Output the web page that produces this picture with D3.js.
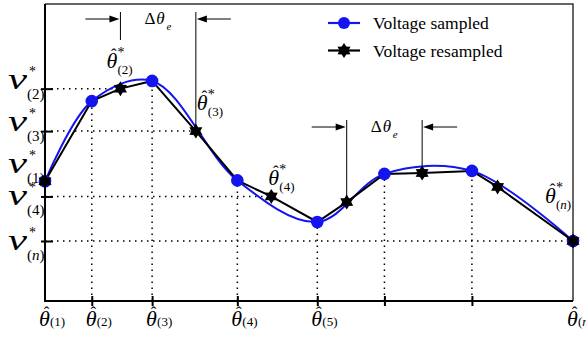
<!DOCTYPE html>
<html>
<head>
<meta charset="utf-8">
<script src="https://cdn.jsdelivr.net/npm/d3@7"></script>
<style>
  html, body { margin: 0; padding: 0; background: #fff; }
  svg { display: block; }
</style>
</head>
<body>
<svg id="chart" width="586" height="343"></svg>
<script>
// ---------------- data ----------------
const sampledTheta   = [0, 0.62, 1.42, 2.55, 3.61, 4.50, 5.66, 7];
const sampledV       = [4.03, 6.73, 7.41, 4.06, 2.66, 4.28, 4.38, 2.02];
const resampledTheta = [0, 1, 2, 3, 4, 5, 6, 7];
const resampledV     = [4.03, 7.15, 5.72, 3.52, 3.33, 4.31, 3.84, 2.02];
const xTickSubs      = ["(1)", "(2)", "(3)", "(4)", "(5)", "", "", "(n)"];
const yTickIndex     = [0, 1, 2, 3, 7];
const yTickSubs      = ["(1)", "(2)", "(3)", "(4)", "(n)"];
const starLabelIndex = [1, 2, 3, 7];
const starLabelSubs  = ["(2)", "(3)", "(4)", "(n)"];
const deltaPairs     = [[1, 2], [4, 5]];
const legendNames    = ["Voltage sampled", "Voltage resampled"];

// ---------------- layout ----------------
const FONT = '"Liberation Serif", "Times New Roman", serif';
const svg = d3.select("#chart");
const x = d3.scaleLinear().domain([0, 7]).range([45, 573]);
const y = d3.scaleLinear().domain([0, 10]).range([301, 4]);
const BLUE = "#1414f0";

function txt(parent, px, py, size, str, italic) {
  const t = parent.append("text").attr("x", px).attr("y", py)
    .style("font-family", FONT).style("font-size", size + "px").style("fill", "#000");
  if (italic) t.style("font-style", "italic");
  if (str !== undefined) t.text(str);
  return t;
}
function subText(parent, px, py, size, sub) {
  const s = txt(parent, px, py, size);
  const m = sub.match(/^\((.*)\)$/);
  if (m) {
    s.append("tspan").text("(");
    s.append("tspan").style("font-style", m[1] === "n" ? "italic" : "normal").text(m[1]);
    s.append("tspan").text(")");
  }
  return s;
}

const sampled = sampledTheta.map((t, i) => ({t, v: sampledV[i]}));
const resampled = resampledTheta.map((t, i) => ({t, v: resampledV[i]}));
const merged = sampled.concat(resampled.slice(1, -1)).sort((a, b) => a.t - b.t);

// hexagram symbol
const hexagram = {
  draw(ctx, size) {
    const R = Math.sqrt(size), r = R * 0.6;
    for (let i = 0; i < 12; i++) {
      const a = -Math.PI / 2 + i * Math.PI / 6;
      const rr = i % 2 === 0 ? R : r;
      const px = rr * Math.cos(a), py = rr * Math.sin(a);
      if (i === 0) ctx.moveTo(px, py); else ctx.lineTo(px, py);
    }
    ctx.closePath();
  }
};
const starPath = d3.symbol().type(hexagram).size(7.5 * 7.5)();

// dotted guides
const guides = svg.append("g").attr("stroke", "#000").attr("stroke-width", 1.5)
  .attr("stroke-dasharray", "1.5,4.5").attr("fill", "none");
sampled.slice(1, -1).forEach(d => {
  guides.append("line").attr("x1", x(d.t)).attr("x2", x(d.t))
    .attr("y1", y(0)).attr("y2", y(d.v));
});
[1, 2, 3, 7].forEach(i => {
  const d = resampled[i];
  guides.append("line").attr("x1", x(0)).attr("x2", x(d.t))
    .attr("y1", y(d.v)).attr("y2", y(d.v));
});

// frame
svg.append("path").attr("fill", "none").attr("stroke", "#333").attr("stroke-width", 1.5)
  .attr("d", `M${x(0)},${y(10)}H${x(7)}V${y(0)}`);
svg.append("path").attr("fill", "none").attr("stroke", "#000").attr("stroke-width", 2)
  .attr("d", `M${x(0)},${y(10)}V${y(0)}H${x(7)}`);

// axes ticks
const xAxis = svg.append("g").attr("transform", `translate(0,${y(0)})`)
  .call(d3.axisBottom(x).tickValues(sampledTheta.slice(1, -1)).tickSize(5).tickFormat(""));
xAxis.select(".domain").remove();
xAxis.selectAll(".tick line").attr("y1", -5).attr("y2", 5).attr("stroke-width", 2);

const yAxis = svg.append("g").attr("transform", `translate(${x(0)},0)`)
  .call(d3.axisLeft(y).tickValues(yTickIndex.slice(1).map(i => resampledV[i])).tickSize(0).tickFormat(""));
yAxis.select(".domain").remove();
yAxis.selectAll(".tick line").attr("x1", -4).attr("x2", 8).attr("stroke-width", 2);

// series lines
svg.append("path").datum(sampled).attr("fill", "none").attr("stroke", BLUE).attr("stroke-width", 2)
  .attr("d", d3.line().x(d => x(d.t)).y(d => y(d.v)).curve(d3.curveCatmullRom.alpha(0.5)));
svg.append("path").datum(merged).attr("fill", "none").attr("stroke", "#000").attr("stroke-width", 2)
  .attr("d", d3.line().x(d => x(d.t)).y(d => y(d.v)));

// markers
svg.append("g").selectAll("circle").data(sampled).join("circle")
  .attr("cx", d => x(d.t)).attr("cy", d => y(d.v)).attr("r", 6.3).attr("fill", BLUE);
svg.append("g").selectAll("path").data(resampled).join("path")
  .attr("d", starPath).attr("transform", d => `translate(${x(d.t)},${y(d.v)})`).attr("fill", "#000");

// hat-theta label helper
function thetaLabel(px, base, sub, star, subDy) {
  const g = svg.append("g");
  txt(g, px, base, 22, "θ", true);
  txt(g, px + 7.5, base - 8, 17, "ˆ").attr("text-anchor", "middle");
  if (star) txt(g, px + 11, base - 11, 14, "*");
  subText(g, px + 11, base + subDy, 13, sub);
}

// x tick labels
sampledTheta.forEach((t, i) => {
  if (xTickSubs[i]) thetaLabel(x(t) - 6, 326, xTickSubs[i], false, 0);
});

// star labels
const starLabelOffset = [[-14, -21], [1, -21], [-3, -11], [-28, -38]];
starLabelIndex.forEach((idx, k) => {
  const d = resampled[idx];
  thetaLabel(x(d.t) + starLabelOffset[k][0], y(d.v) + starLabelOffset[k][1], starLabelSubs[k], true, 6);
});

// y tick labels
const yLabelDy = [-8, 0, 0, 9, 9];
yTickIndex.forEach((idx, k) => {
  const ty = y(resampledV[idx]) + yLabelDy[k];
  const g = svg.append("g");
  txt(g, 8, ty, 30, "v", true).attr("textLength", 19).attr("lengthAdjust", "spacingAndGlyphs");
  txt(g, 29, ty - 13, 14, "*");
  subText(g, 27, ty + 10, 15, yTickSubs[k]);
});

// delta theta annotations
const deltaY = [19, 127];
deltaPairs.forEach(([a, b], k) => {
  const ay = deltaY[k];
  const xa = x(resampled[a].t), xb = x(resampled[b].t);
  const g = svg.append("g").attr("stroke", "#000").attr("stroke-width", 1);
  const top = ay - 7;
  g.append("line").attr("x1", xa).attr("x2", xa).attr("y1", top)
    .attr("y2", k === 0 ? ay + 21 : y(resampled[a].v));
  g.append("line").attr("x1", xb).attr("x2", xb).attr("y1", top).attr("y2", y(resampled[b].v));
  g.append("line").attr("x1", xa - 35).attr("x2", xa - 8).attr("y1", ay).attr("y2", ay);
  g.append("line").attr("x1", xb + 35).attr("x2", xb + 8).attr("y1", ay).attr("y2", ay);
  svg.append("path").attr("fill", "#000")
    .attr("d", `M${xa - 1},${ay}L${xa - 11},${ay - 3.5}L${xa - 11},${ay + 3.5}Z`);
  svg.append("path").attr("fill", "#000")
    .attr("d", `M${xb + 1},${ay}L${xb + 11},${ay - 3.5}L${xb + 11},${ay + 3.5}Z`);
  const t = txt(svg, xa + 24, ay + 5, 17);
  t.append("tspan").text("Δ");
  t.append("tspan").style("font-style", "italic").attr("dx", 1).text("θ");
  txt(svg, xa + 46, ay + 11, 11, "e", true);
});

// legend
const lg = svg.append("g");
legendNames.forEach((name, i) => {
  const ly = 23 + i * 27.5;
  lg.append("line").attr("x1", 328).attr("x2", 360).attr("y1", ly).attr("y2", ly)
    .attr("stroke", i === 0 ? BLUE : "#000").attr("stroke-width", 2.2);
  if (i === 0) lg.append("circle").attr("cx", 344).attr("cy", ly).attr("r", 6).attr("fill", BLUE);
  else lg.append("path").attr("d", starPath).attr("transform", `translate(344,${ly})`).attr("fill", "#000");
  txt(lg, 373, ly + 6, 17.5, name);
});
</script>
</body>
</html>
